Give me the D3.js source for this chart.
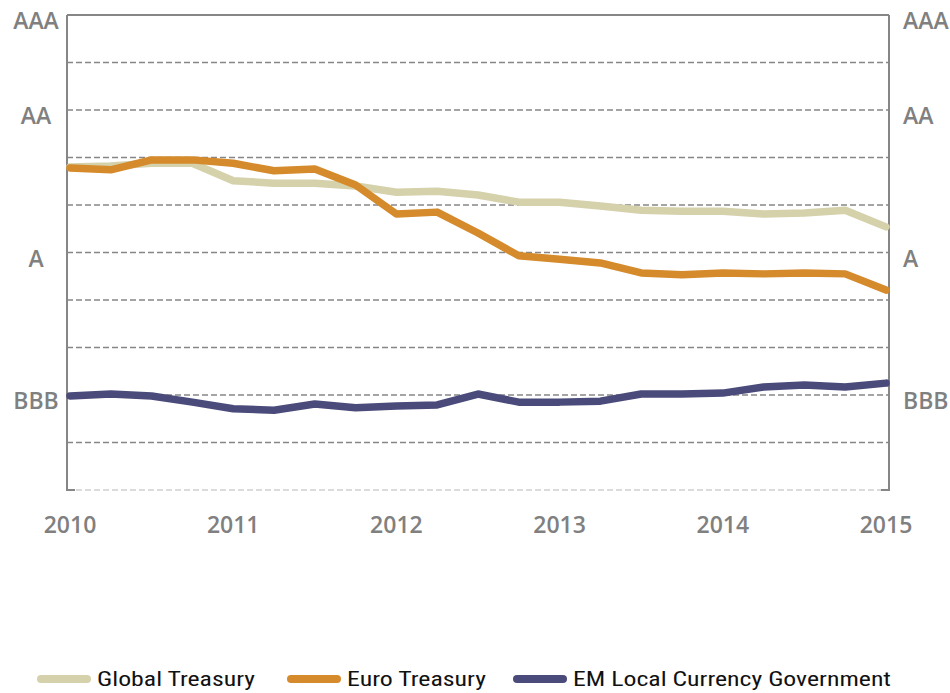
<!DOCTYPE html>
<html><head><meta charset="utf-8">
<script src="https://cdn.jsdelivr.net/npm/d3@7"></script>
<style>body{margin:0;background:#fff}</style>
</head><body>
<svg id="c" width="950" height="693"></svg>
<script>
const quarters = [2010,2010.25,2010.5,2010.75,2011,2011.25,2011.5,2011.75,2012,2012.25,2012.5,2012.75,2013,2013.25,2013.5,2013.75,2014,2014.25,2014.5,2014.75,2015];
const years = [2010,2011,2012,2013,2014,2015];
// rating scale: 0 = BB+, 1 = BBB-, 2 = BBB, ... 5 = A, 8 = AA, 10 = AAA
const ratingTicks = [10,8,5,2];
const ratingLabels = ["AAA","AA","A","BBB"];
const gridValues = [0,1,2,3,4,5,6,7,8,9,10];
const globalTreasury = [6.80,6.82,6.88,6.88,6.51,6.46,6.46,6.40,6.27,6.29,6.21,6.06,6.06,5.98,5.89,5.87,5.87,5.81,5.83,5.89,5.54];
const euroTreasury   = [6.78,6.74,6.95,6.95,6.88,6.72,6.76,6.42,5.81,5.85,5.41,4.93,4.86,4.78,4.57,4.53,4.57,4.55,4.57,4.55,4.21];
const emLocal        = [1.98,2.02,1.98,1.85,1.71,1.68,1.81,1.73,1.77,1.79,2.02,1.85,1.85,1.87,2.02,2.02,2.04,2.17,2.21,2.17,2.25];
const seriesNames = ["Global Treasury","Euro Treasury","EM Local Currency Government"];
const seriesColors = ["#D5D1AB","#D58A2B","#4A4B7A"];

const svg = d3.select("#c");
const x = d3.scaleLinear().domain([2010,2015]).range([70,886]);
const y = d3.scaleLinear().domain([0,10]).range([490,15]);
const L = 67, R = 889;
const axisCol = "#868686";
const labelFont = "'Open Sans', sans-serif";

// gridlines
svg.append("g").selectAll("line").data(gridValues.filter(v=>v>0 && v<10)).join("line")
  .attr("x1",L).attr("x2",R).attr("y1",d=>y(d)).attr("y2",d=>y(d))
  .attr("stroke",axisCol).attr("stroke-width",1.3).attr("stroke-dasharray","6,3");
// bottom light dashed
svg.append("line").attr("x1",L).attr("x2",R).attr("y1",y(0)).attr("y2",y(0))
  .attr("stroke","#d0d0d0").attr("stroke-width",1.3).attr("stroke-dasharray","6,3");
svg.append("line").attr("x1",L-1).attr("x2",L+8).attr("y1",y(0)).attr("y2",y(0)).attr("stroke",axisCol).attr("stroke-width",2);
svg.append("line").attr("x1",R-8).attr("x2",R+1).attr("y1",y(0)).attr("y2",y(0)).attr("stroke",axisCol).attr("stroke-width",2);
// frame
svg.append("line").attr("x1",L).attr("x2",R).attr("y1",y(10)).attr("y2",y(10)).attr("stroke",axisCol).attr("stroke-width",2);
svg.append("line").attr("x1",L).attr("x2",L).attr("y1",y(10)).attr("y2",y(0)).attr("stroke",axisCol).attr("stroke-width",2);
svg.append("line").attr("x1",R).attr("x2",R).attr("y1",y(10)).attr("y2",y(0)).attr("stroke",axisCol).attr("stroke-width",2);

// y labels
const lab = svg.append("g").attr("font-family",labelFont).attr("font-size",23).attr("font-weight",600).attr("fill","#808080");
lab.selectAll("text.l").data(ratingTicks).join("text").attr("class","l")
  .attr("x",36).attr("y",d=>y(d)+6).attr("dy","0.35em").attr("text-anchor","middle").text((d,i)=>ratingLabels[i]);
lab.selectAll("text.r").data(ratingTicks).join("text").attr("class","r")
  .attr("x",903).attr("y",d=>y(d)+6).attr("dy","0.35em").attr("text-anchor","start").text((d,i)=>ratingLabels[i]);
// x labels
lab.selectAll("text.x").data(years).join("text").attr("class","x")
  .attr("x",d=>x(d)).attr("y",525).attr("dy","0.35em").attr("text-anchor","middle").text(d=>d);

// lines
const line = d3.line().x((d,i)=>x(quarters[i])).y(d=>y(d));
[globalTreasury,euroTreasury,emLocal].forEach((s,k)=>{
  svg.append("path").datum(s).attr("d",line).attr("fill","none")
    .attr("stroke",seriesColors[k]).attr("stroke-width",7.5)
    .attr("stroke-linecap","round").attr("stroke-linejoin","round");
});

// legend
const legX = [37,287,513];
const legW = [158,139,318];
const lg = svg.append("g");
seriesNames.forEach((n,k)=>{
  lg.append("line").attr("x1",legX[k]+4).attr("x2",legX[k]+50).attr("y1",679).attr("y2",679)
    .attr("stroke",seriesColors[k]).attr("stroke-width",8).attr("stroke-linecap","round");
  lg.append("text").attr("x",legX[k]+60).attr("y",686)
    .attr("font-family","'Liberation Sans Narrow','Roboto Condensed',sans-serif").attr("font-size",21)
    .attr("fill","#111").attr("textLength",legW[k]).attr("lengthAdjust","spacingAndGlyphs").text(n);
});
</script>
</body></html>
